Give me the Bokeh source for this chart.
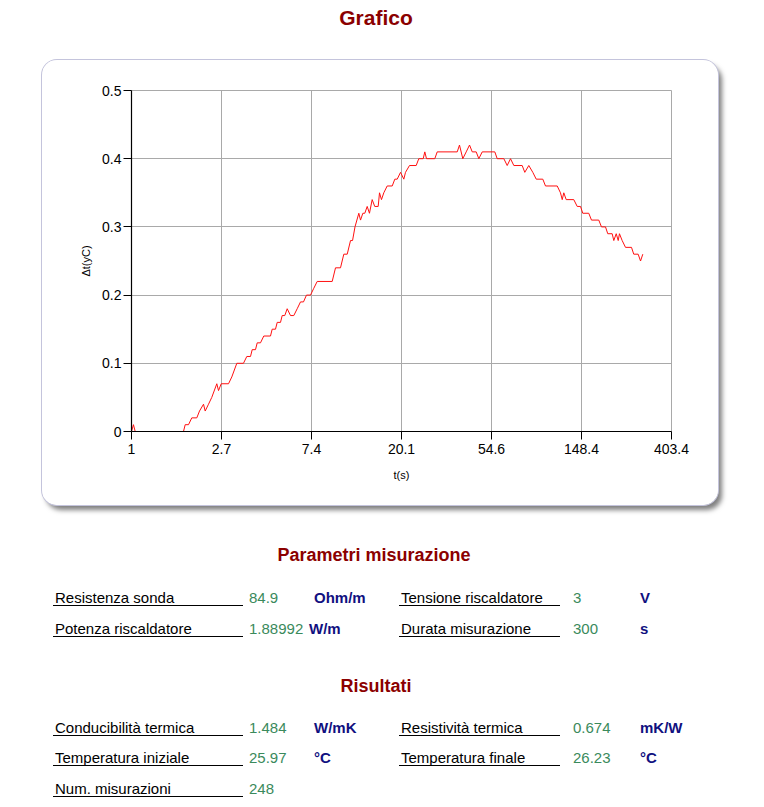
from bokeh.plotting import figure
from bokeh.layouts import column
from bokeh.models import FixedTicker, Div
from bokeh.embed import file_html
from bokeh.resources import INLINE

# ---------------- data ----------------
t_s = [1.00, 1.022, 1.042, 1.782, 1.816, 1.884, 1.954, 2.066, 2.129, 2.226,
       2.268, 2.353, 2.440, 2.580, 2.630, 2.709, 2.939, 3.048, 3.222, 3.470,
       3.601, 3.752, 3.823, 3.966, 4.042, 4.192, 4.349, 4.685, 4.774, 4.953,
       5.048, 5.236, 5.335, 5.491, 5.640, 5.851, 6.070, 6.303, 6.540, 6.760,
       6.988, 7.308, 7.580, 7.870, 9.300, 9.648, 10.20, 10.58, 10.99, 11.40,
       11.66, 11.98, 12.50, 12.74, 13.07, 13.36, 13.72, 14.07, 14.50, 14.92,
       15.50, 15.73, 16.08, 16.50, 17.13, 18.12, 18.65, 19.15, 19.87, 20.61,
       21.00, 21.95, 23.65, 24.34, 25.56, 26.02, 26.52, 29.08, 29.87, 37.31,
       38.26, 39.69, 41.22, 42.78, 44.08, 46.06, 47.42, 49.25, 56.65, 58.16,
       62.62, 65.00, 67.44, 69.98, 76.79, 79.04, 82.62, 86.40, 89.74, 96.55,
       99.48, 113.3, 117.5, 119.8, 121.9, 125.2, 136.2, 141.5, 146.8, 150.5,
       160.9, 165.8, 179.8, 185.3, 193.8, 198.7, 208.7, 212.5, 218.3, 223.2,
       226.3, 233.2, 242.0, 258.7, 265.2, 278.5, 286.0, 293.3]
delta_t = [0.00, 0.01, 0.00, 0.00, 0.01, 0.01, 0.02, 0.02, 0.03, 0.04,
           0.03, 0.04, 0.05, 0.07, 0.06, 0.07, 0.07, 0.08, 0.10, 0.10,
           0.11, 0.11, 0.12, 0.12, 0.13, 0.13, 0.14, 0.14, 0.15, 0.15,
           0.16, 0.16, 0.17, 0.17, 0.18, 0.17, 0.17, 0.18, 0.19, 0.19,
           0.20, 0.20, 0.21, 0.22, 0.22, 0.24, 0.24, 0.26, 0.26, 0.28,
           0.28, 0.30, 0.32, 0.31, 0.32, 0.32, 0.33, 0.32, 0.34, 0.33,
           0.33, 0.35, 0.34, 0.35, 0.36, 0.36, 0.37, 0.37, 0.38, 0.37,
           0.38, 0.39, 0.39, 0.40, 0.40, 0.41, 0.40, 0.40, 0.41, 0.41,
           0.42, 0.40, 0.41, 0.42, 0.41, 0.41, 0.40, 0.41, 0.41, 0.40,
           0.40, 0.39, 0.40, 0.39, 0.39, 0.38, 0.39, 0.38, 0.37, 0.37,
           0.36, 0.36, 0.35, 0.34, 0.35, 0.34, 0.34, 0.33, 0.33, 0.32,
           0.32, 0.31, 0.31, 0.30, 0.30, 0.29, 0.29, 0.28, 0.29, 0.28,
           0.29, 0.28, 0.27, 0.27, 0.26, 0.26, 0.25, 0.26]

x_ticks = [1.0, 2.718282, 7.389056, 20.085537, 54.59815, 148.41316, 403.42879]
x_tick_labels = ["1", "2.7", "7.4", "20.1", "54.6", "148.4", "403.4"]
y_ticks = [0.0, 0.1, 0.2, 0.3, 0.4, 0.5]
y_tick_labels = ["0", "0.1", "0.2", "0.3", "0.4", "0.5"]

title_text = "Grafico"
x_label = "t(s)"
y_label = "\u0394t(yC)"

param_heading = "Parametri misurazione"
param_names_l = ["Resistenza sonda", "Potenza riscaldatore"]
param_values_l = ["84.9", "1.88992"]
param_units_l = ["Ohm/m", "W/m"]
param_names_r = ["Tensione riscaldatore", "Durata misurazione"]
param_values_r = ["3", "300"]
param_units_r = ["V", "s"]

result_heading = "Risultati"
result_names_l = ["Conducibilit\u00e0 termica", "Temperatura iniziale", "Num. misurazioni"]
result_values_l = ["1.484", "25.97", "248"]
result_units_l = ["W/mK", "\u00b0C", ""]
result_names_r = ["Resistivit\u00e0 termica", "Temperatura finale"]
result_values_r = ["0.674", "26.23"]
result_units_r = ["mK/W", "\u00b0C"]

# ---------------- styling / layout ----------------
PAGE_W, PAGE_H = 764, 807
HEAD_H = 60
CARD_L, CARD_W, CARD_H = 42, 676, 445
CARD_GAP = 10
BOT_TOP = HEAD_H + CARD_H + CARD_GAP
BOT_H = PAGE_H - BOT_TOP
FRAME_L, FRAME_R, FRAME_T, FRAME_B = 131, 671, 90, 431   # page coords of chart frame

FONT = "'Liberation Sans', Arial, sans-serif"
RED_HEAD = "#8b0000"
GREEN = "#3a8a5c"
NAVY = "#101080"


def span(x, y, s, size, color, bold=False, center=False):
    tr = "translate(-50%,-50%)" if center else "translateY(-50%)"
    return ('<span style="position:absolute;left:%spx;top:%spx;transform:%s;white-space:nowrap;'
            'font-family:%s;font-size:%s;font-weight:%s;color:%s;line-height:1;">%s</span>'
            % (x, y, tr, FONT, size, "bold" if bold else "normal", color, s))


def hline(x0, x1, y):
    return ('<div style="position:absolute;left:%spx;top:%spx;width:%spx;height:1px;'
            'background:#000;"></div>' % (x0, y, x1 - x0))


def box(w, h, inner):
    return ('<div style="position:relative;width:%dpx;height:%dpx;margin:0;padding:0;">%s</div>'
            % (w, h, inner))


# ---- header ----
head = Div(text=box(PAGE_W, HEAD_H, span(376, 17, title_text, "21px", RED_HEAD, True, True)),
           width=PAGE_W, height=HEAD_H, margin=0)

# ---- chart card ----
p = figure(width=CARD_W, height=CARD_H, x_axis_type="log",
           x_range=(x_ticks[0], x_ticks[-1]), y_range=(y_ticks[0], y_ticks[-1]),
           output_backend="svg", toolbar_location=None,
           min_border_left=FRAME_L - CARD_L, min_border_right=CARD_L + CARD_W - FRAME_R,
           min_border_top=FRAME_T - HEAD_H, min_border_bottom=HEAD_H + CARD_H - FRAME_B,
           margin=(0, 0, CARD_GAP, CARD_L))
p.background_fill_color = "white"
p.border_fill_color = "white"
p.outline_line_color = "#a9a9a9"
p.styles = {"border-radius": "15px", "overflow": "hidden",
            "box-shadow": "0 0 0 1px #c4c4dc, 4px 5px 5px rgba(0,0,0,0.5)"}

p.xaxis.ticker = FixedTicker(ticks=x_ticks)
p.xaxis.major_label_overrides = dict(zip(x_ticks, x_tick_labels))
p.yaxis.ticker = FixedTicker(ticks=y_ticks)
p.yaxis.major_label_overrides = dict(zip(y_ticks, y_tick_labels))
p.xgrid.ticker = FixedTicker(ticks=x_ticks)
p.ygrid.ticker = FixedTicker(ticks=y_ticks)
for g in (p.xgrid, p.ygrid):
    g.grid_line_color = "#a9a9a9"
    g.grid_line_width = 1

for ax in (p.xaxis, p.yaxis):
    ax.axis_line_color = "black"
    ax.axis_line_width = 1.2
    ax.major_tick_line_color = "black"
    ax.major_tick_in = 0
    ax.major_tick_out = 8
    ax.minor_tick_line_color = None
    ax.major_label_text_font = "Liberation Sans"
    ax.major_label_text_font_size = "14px"
    ax.major_label_text_color = "black"
    ax.axis_label_text_font = "Liberation Sans"
    ax.axis_label_text_font_size = "11px"
    ax.axis_label_text_font_style = "normal"
    ax.axis_label_text_color = "black"

p.xaxis.axis_label = x_label
p.yaxis.axis_label = y_label
p.xaxis.major_label_standoff = 4
p.yaxis.major_label_standoff = 2
p.xaxis.axis_label_standoff = 12
p.yaxis.axis_label_standoff = 7

p.line(t_s, delta_t, line_color="#ff1010", line_width=1)

# ---- tables (page coordinates minus the block's top) ----
LX, VX, UX = 55, 249, 314
RLX, RVX, RUX = 401, 573, 640
parts = [span(374, 555 - BOT_TOP, param_heading, "18px", RED_HEAD, True, True),
         span(376, 686 - BOT_TOP, result_heading, "18px", RED_HEAD, True, True)]


def row(py, name, val, unit, lx, vx, ux, ul):
    y = py - BOT_TOP
    parts.append(span(lx, y, name, "15px", "#000"))
    parts.append(span(vx, y, val, "15px", GREEN))
    if unit:
        parts.append(span(ux, y, unit, "15px", NAVY, bold=True))
    parts.append(hline(ul[0], ul[1], y + 8))


param_rows_y = [597, 628]
for i, y in enumerate(param_rows_y):
    row(y, param_names_l[i], param_values_l[i], param_units_l[i], LX, VX, UX if i == 0 else 309, (53, 243))
    row(y, param_names_r[i], param_values_r[i], param_units_r[i], RLX, RVX, RUX, (399, 560))

result_rows_y = [727, 757, 788]
for i, y in enumerate(result_rows_y):
    row(y, result_names_l[i], result_values_l[i], result_units_l[i], LX, VX, UX, (53, 243))
    if i < len(result_names_r):
        row(y, result_names_r[i], result_values_r[i], result_units_r[i], RLX, RVX, RUX, (399, 560))

bot = Div(text=box(PAGE_W, BOT_H, "".join(parts)), width=PAGE_W, height=BOT_H, margin=0)

layout = column(head, p, bot, spacing=0)
open("out.html", "w").write(file_html(layout, INLINE))
